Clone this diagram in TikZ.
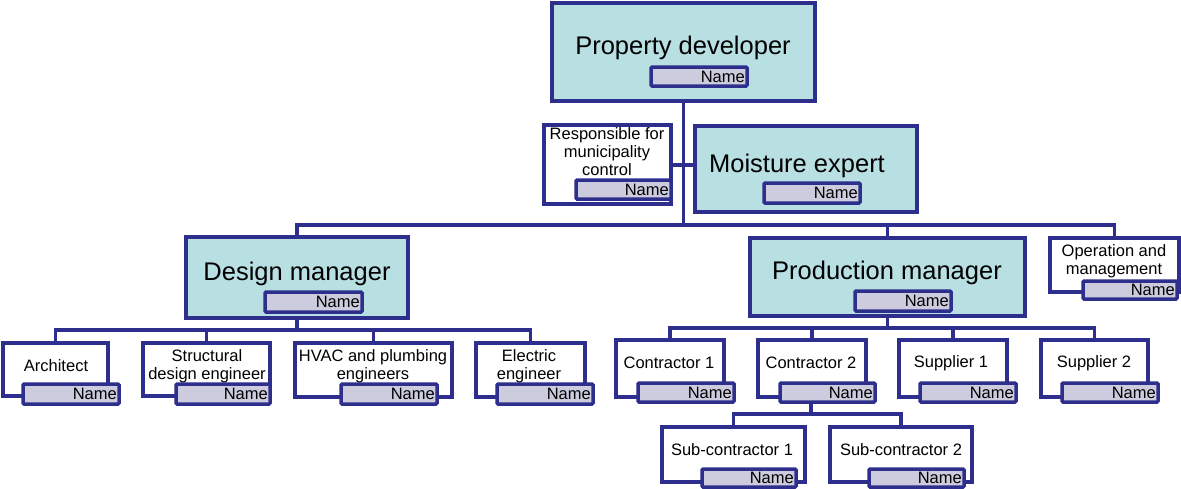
\documentclass[tikz,border=0pt]{standalone}
\usepackage{fontspec}
\setmainfont{Liberation Sans}
\definecolor{navy}{RGB}{46,46,140}
\definecolor{teal0}{RGB}{184,223,226}
\definecolor{tagfill}{RGB}{204,204,222}
\tikzset{
  conn/.style={draw=navy, line width=3.5pt, line join=miter},
  bigbox/.style={draw=navy, fill=teal0, line width=3.5pt, inner sep=0pt, outer sep=0pt, rectangle},
  smallbox/.style={draw=navy, fill=white, line width=3.5pt, inner sep=0pt, outer sep=0pt, rectangle},
  tagbox/.style={draw=navy, fill=tagfill, line width=3.5pt, rounded corners=1pt, inner sep=0pt, outer sep=0pt, rectangle},
  title/.style={font=\fontsize{25.5}{28}\selectfont, inner sep=0pt, align=center},
  small/.style={font=\fontsize{16.5}{18}\selectfont, inner sep=0pt, align=center},
  tagtext/.style={font=\fontsize{16.5}{18}\selectfont, inner sep=0pt, anchor=east}
}
\newcommand\obox[6]{\node[#2, anchor=north west, minimum width={(#5)-(#3)}, minimum height={(#6)-(#4)}] (#1) at (#3,#4) {};}
\newcommand\otag[5]{\node[tagbox, anchor=north west, minimum width={(#4)-(#2)}, minimum height={(#5)-(#3)}] (#1) at (#2,#3) {};
  \node[tagtext] (#1n) at ([xshift=-2pt]#1.east) {Name};}
\begin{document}
\begin{tikzpicture}[x=1pt,y=-1pt]
\useasboundingbox (0,0) rectangle (1181,488);
% bus coordinates
\coordinate (bus1) at (683,225);
\coordinate (bus2) at (297,330);
\coordinate (bus3) at (887,328);
\coordinate (bus4) at (811,414);
% boxes
\obox{pd}{bigbox}{552}{3}{815}{101}
\obox{resp}{smallbox}{544}{125}{671}{204}
\obox{me}{bigbox}{695}{126}{917}{212}
\obox{dm}{bigbox}{186}{237}{408}{318}
\obox{pm}{bigbox}{750}{238}{1025}{316}
\obox{om}{smallbox}{1050}{238}{1179}{292}
\obox{arch}{smallbox}{3}{343}{108}{396}
\obox{str}{smallbox}{143}{343}{270}{396}
\obox{hvac}{smallbox}{295}{343}{452}{397}
\obox{elec}{smallbox}{476}{343}{585}{397}
\obox{ca}{smallbox}{616}{340}{724}{397}
\obox{cb}{smallbox}{758}{340}{866}{397}
\obox{sa}{smallbox}{899}{340}{1007}{397}
\obox{sb}{smallbox}{1041}{340}{1148}{397}
\obox{suba}{smallbox}{662}{427}{805}{482}
\obox{subb}{smallbox}{830}{427}{972}{482}
% connectors
\draw[conn] (pd.south) -- (pd.south |- bus1);
\draw[conn] (dm.north) -- (dm.north |- bus1) -- (om.north |- bus1) -- (om.north);
\draw[conn] (pm.north) -- (pm.north |- bus1);
\draw[conn] (resp.east |- 0,165) -- (me.west |- 0,165);
\draw[conn] (dm.south) -- (dm.south |- bus2);
\draw[conn] (arch.north) -- (arch.north |- bus2) -- (elec.north |- bus2) -- (elec.north);
\draw[conn] (str.north) -- (str.north |- bus2);
\draw[conn] (hvac.north) -- (hvac.north |- bus2);
\draw[conn] (pm.south) -- (pm.south |- bus3);
\draw[conn] (ca.north) -- (ca.north |- bus3) -- (sb.north |- bus3) -- (sb.north);
\draw[conn] (cb.north) -- (cb.north |- bus3);
\draw[conn] (sa.north) -- (sa.north |- bus3);
\coordinate (cbbot) at (811,402);
\draw[conn] (cbbot) -- (bus4);
\draw[conn] (suba.north) -- (suba.north |- bus4) -- (subb.north |- bus4) -- (subb.north);
% tags
\otag{pdt}{651}{67}{747}{86}
\otag{respt}{576}{180}{671}{199}
\otag{met}{764}{183}{860}{203}
\otag{dmt}{265}{292}{362}{312}
\otag{pmt}{855}{291}{951}{311}
\otag{omt}{1083}{281}{1177}{299}
\otag{archt}{23}{384}{119}{404}
\otag{strt}{176}{384}{270}{404}
\otag{hvact}{341}{384}{437}{404}
\otag{elect}{497}{384}{593}{404}
\otag{cat}{638}{383}{734}{402}
\otag{cbt}{780}{383}{875}{402}
\otag{sat}{920}{383}{1016}{402}
\otag{sbt}{1062}{383}{1158}{402}
\otag{subat}{702}{469}{796}{487}
\otag{subbt}{869}{469}{964}{487}
% texts
\node[title] (pdx) at (683,48) {Property developer};
\node[small] (respx) at (607,152) {Responsible for\\municipality\\control};
\node[title] (mex) at (797,166) {Moisture expert};
\node[title] (dmx) at (297,274) {Design manager};
\node[title] (pmx) at (887,273) {Production manager};
\node[small] (omx) at (1114,261) {Operation and\\management};
\node[small] (archx) at (56,366) {Architect};
\node[small] (strx) at (207,366) {Structural\\design engineer};
\node[small] (hvacx) at (373,366) {HVAC and plumbing\\engineers};
\node[small] (elecx) at (529,366) {Electric\\engineer};
\node[small] (cax) at (669,363) {Contractor 1};
\node[small] (cbx) at (811,363) {Contractor 2};
\node[small] (sax) at (951,363) {Supplier 1};
\node[small] (sbx) at (1094,363) {Supplier 2};
\node[small] (subax) at (732,450) {Sub-contractor 1};
\node[small] (subbx) at (901,450) {Sub-contractor 2};
\end{tikzpicture}
\end{document}
